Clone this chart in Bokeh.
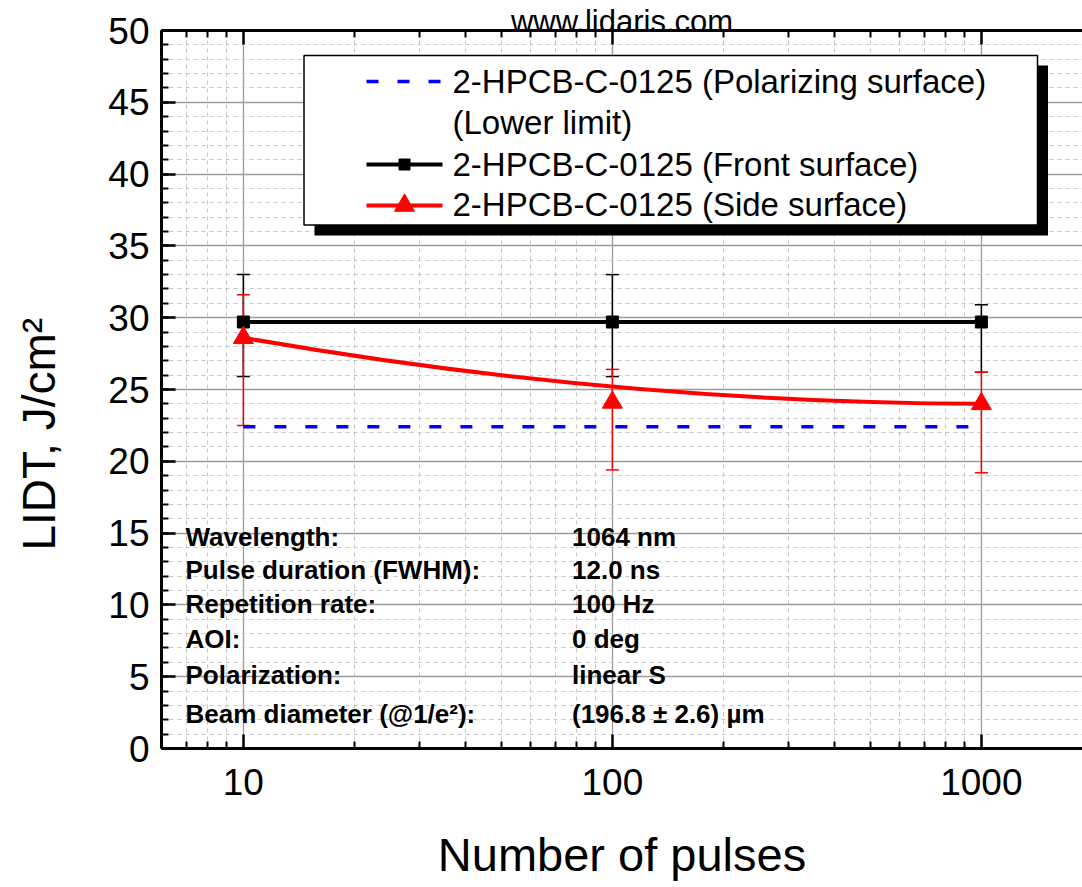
import math
from bokeh.plotting import figure
from bokeh.models import (ColumnDataSource, Whisker, TeeHead, FixedTicker,
                          SingleIntervalTicker, LogAxis, Range1d,
                          PrintfTickFormatter)
from bokeh.embed import file_html
from bokeh.resources import INLINE
from bokeh.core.properties import value

# ---------------- data ----------------
pulses = [10, 100, 1000]
front_lidt = [29.7, 29.7, 29.7]
front_upper = [33.0, 33.0, 30.9]
front_lower = [25.9, 25.9, 26.2]
side_lidt = [28.6, 24.1, 24.0]
side_upper = [31.6, 26.4, 26.2]
side_lower = [22.5, 19.4, 19.2]
polar_x = [10, 1000]
polar_lower_limit = [22.4, 22.4]

x_major_ticks = [10, 100, 1000]
x_minor_ticks = [6, 7, 8, 9, 20, 30, 40, 50, 60, 70, 80, 90,
                 200, 300, 400, 500, 600, 700, 800, 900]
y_tick_interval = 5
y_minor_per_major = 5

legend_lines = ["2-HPCB-C-0125 (Polarizing surface)", "(Lower limit)",
                "2-HPCB-C-0125 (Front surface)", "2-HPCB-C-0125 (Side surface)"]
info_names = ["Wavelength:", "Pulse duration (FWHM):", "Repetition rate:",
              "AOI:", "Polarization:", "Beam diameter (@1/e\u00b2):"]
info_values = ["1064 nm", "12.0 ns", "100 Hz", "0 deg", "linear S",
               "(196.8 \u00b1 2.6) \u00b5m"]
title_text = "www.lidaris.com"
x_label = "Number of pulses"
y_label = "LIDT,  J/cm\u00b2"

# ---------------- layout (page pixels) ----------------
W, H = 1082, 887
FL, FR, FT, FB = 161, 1082, 30, 748
DECADE = 369.0
XLO = 6.0
XHI = XLO * 10 ** ((FR - FL) / DECADE)
YLO, YHI = 0, 50


def dx(px):
    return XLO * 10 ** ((px - FL) / DECADE)


def dy(py):
    return YLO + (FB - py) / (FB - FT) * (YHI - YLO)


FONT = "Liberation Sans"

p = figure(width=W, height=H, x_axis_type="log",
           x_range=Range1d(XLO, XHI), y_range=Range1d(YLO, YHI),
           output_backend="svg", toolbar_location=None,
           min_border_left=FL, min_border_right=0,
           min_border_top=FT, min_border_bottom=H - FB)
p.outline_line_color = None
p.background_fill_color = "white"
p.border_fill_color = "white"

xticker = FixedTicker(ticks=x_major_ticks, minor_ticks=x_minor_ticks)
yticker = SingleIntervalTicker(interval=y_tick_interval, num_minor_ticks=y_minor_per_major)

for ax in (p.xaxis[0], p.yaxis[0]):
    ax.axis_line_width = 3
    ax.axis_line_color = "black"
    ax.major_tick_in = 14
    ax.major_tick_out = 0
    ax.minor_tick_in = 7
    ax.minor_tick_out = 0
    ax.major_tick_line_width = 2.5
    ax.minor_tick_line_width = 2
    ax.major_tick_line_color = "black"
    ax.minor_tick_line_color = "black"
    ax.major_label_text_font = FONT
    ax.major_label_text_font_size = "37px"
    ax.major_label_text_color = "black"
    ax.major_label_standoff = 12
    ax.axis_label_text_font = FONT
    ax.axis_label_text_font_style = "normal"
    ax.axis_label_text_color = "black"
    ax.axis_label_text_font_size = "46px"

p.xaxis.ticker = xticker
p.xaxis.formatter = PrintfTickFormatter(format="%d")
p.yaxis.ticker = yticker
p.xaxis.major_label_standoff = 20
p.xaxis.axis_label = x_label
p.xaxis.axis_label_text_font_size = "47px"
p.xaxis.axis_label_standoff = 30
# trailing no-break spaces shift the centred label toward the bottom, as in the original
p.yaxis.axis_label = y_label + "\u00a0" * 6
p.yaxis.axis_label_standoff = 40

top = LogAxis(ticker=xticker, formatter=PrintfTickFormatter(format="%d"),
              major_label_text_font_size="1px", major_label_text_alpha=0,
              major_label_standoff=0, axis_line_width=3, major_tick_in=14,
              major_tick_out=0, minor_tick_in=7, minor_tick_out=0,
              major_tick_line_width=2.5, minor_tick_line_width=2,
              axis_label=title_text, axis_label_text_font=FONT,
              axis_label_text_font_style="normal", axis_label_text_color="black",
              axis_label_text_font_size="31px", axis_label_standoff=-8)
p.add_layout(top, "above")

p.xgrid.ticker = xticker
p.ygrid.ticker = yticker
for g in (p.xgrid[0], p.ygrid[0]):
    g.grid_line_color = "#9c9c9c"
    g.grid_line_width = 1.3
    g.minor_grid_line_color = "#c6c6c6"
    g.minor_grid_line_width = 1
    g.minor_grid_line_dash = "4 4"

# ---------------- data marks ----------------
p.line(polar_x, polar_lower_limit, line_color="#0000ff", line_width=3.5,
       line_dash="12 19")

src_front = ColumnDataSource(dict(x=pulses, y=front_lidt, upper=front_upper, lower=front_lower))
src_side = ColumnDataSource(dict(x=pulses, y=side_lidt, upper=side_upper, lower=side_lower))

p.add_layout(Whisker(source=src_front, base="x", upper="upper", lower="lower",
                     dimension="height", line_color="black", line_width=1.5,
                     upper_head=TeeHead(size=13, line_color="black", line_width=1.5),
                     lower_head=TeeHead(size=13, line_color="black", line_width=1.5)))
p.add_layout(Whisker(source=src_side, base="x", upper="upper", lower="lower",
                     dimension="height", line_color="#ff0000", line_width=1.5,
                     upper_head=TeeHead(size=13, line_color="#ff0000", line_width=1.5),
                     lower_head=TeeHead(size=13, line_color="#ff0000", line_width=1.5)))

p.line("x", "y", source=src_front, line_color="black", line_width=4)
p.scatter("x", "y", source=src_front, marker="square", size=12, color="black")

p.quadratic(x0=[pulses[0]], y0=[side_lidt[0]], x1=[pulses[-1]], y1=[side_lidt[-1]],
            cx=[pulses[1]], cy=[side_lidt[1]], line_color="#ff0000", line_width=4)
p.scatter("x", "y", source=src_side, marker="triangle", size=20, color="#ff0000")

# ---------------- legend (drawn) ----------------
p.quad(left=[dx(314)], right=[dx(1047.5)], top=[dy(65)], bottom=[dy(235)],
       fill_color="black", line_color=None)
p.quad(left=[dx(303.5)], right=[dx(1037)], top=[dy(55)], bottom=[dy(224.5)],
       fill_color="white", line_color="black", line_width=1.5)
p.line([dx(366), dx(442)], [dy(81), dy(81)], line_color="#0000ff", line_width=3.5,
       line_dash="12 19")
p.line([dx(366), dx(442)], [dy(164), dy(164)], line_color="black", line_width=4)
p.scatter([dx(404)], [dy(164)], marker="square", size=11, color="black")
p.line([dx(366), dx(442)], [dy(205), dy(205)], line_color="#ff0000", line_width=4)
p.scatter([dx(404)], [dy(205)], marker="triangle", size=20, color="#ff0000")
p.text(x=[dx(452)] * 4, y=[dy(c) for c in (80.5, 121.5, 163.5, 203.5)], text=legend_lines,
       text_font=value(FONT), text_font_size="33px", text_color="black",
       text_baseline="middle", text_align="left")

# ---------------- info block ----------------
info_mid = [536, 569, 603, 638, 674, 713]
p.text(x=[dx(185)] * len(info_names), y=[dy(c) for c in info_mid], text=info_names,
       text_font=value(FONT), text_font_size="26px", text_font_style="bold",
       text_color="black", text_baseline="middle", text_align="left")
p.text(x=[dx(571.5)] * len(info_values), y=[dy(c) for c in info_mid], text=info_values,
       text_font=value(FONT), text_font_size="26px", text_font_style="bold",
       text_color="black", text_baseline="middle", text_align="left")

open("out.html", "w").write(file_html(p, INLINE))
